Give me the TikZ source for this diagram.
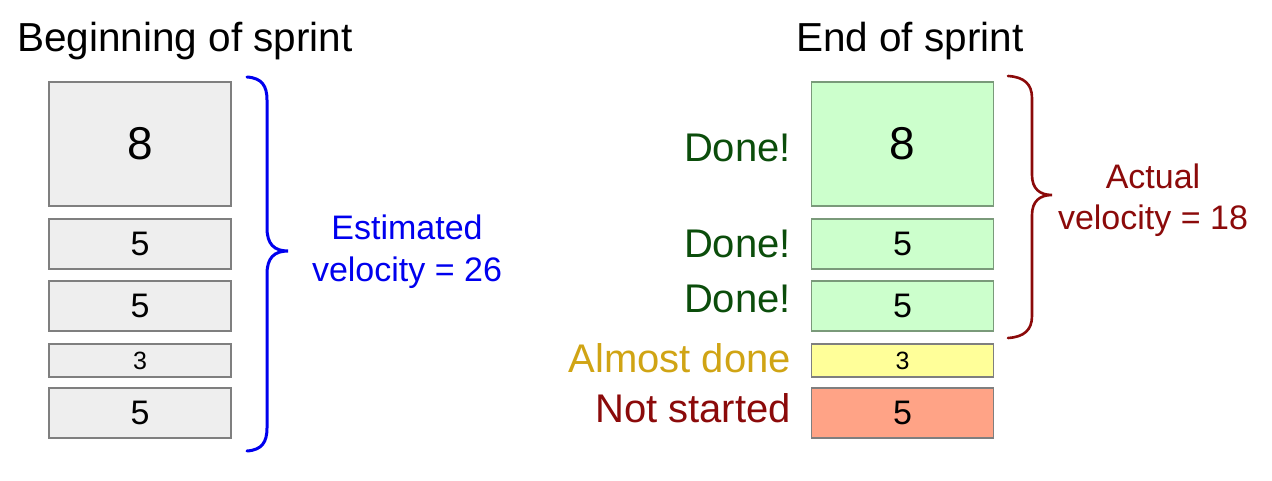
\documentclass[tikz,border=0pt]{standalone}
\usepackage{fontspec}
\setmainfont{Liberation Sans}
\definecolor{boxgray}{HTML}{EEEEEE}
\definecolor{boxline}{HTML}{7F7F7F}
\definecolor{donefill}{HTML}{CCFFCC}
\definecolor{doneline}{HTML}{7A9A7A}
\definecolor{almostfill}{HTML}{FFFF99}
\definecolor{notfill}{HTML}{FFA386}
\definecolor{donetext}{HTML}{0B4D0B}
\definecolor{almosttext}{HTML}{D0A414}
\definecolor{darkred}{HTML}{8B0A0A}
\definecolor{estblue}{HTML}{0000EE}
\tikzset{
  story/.style={draw=boxline, line width=1.3pt, minimum width=182pt, inner sep=0pt, anchor=center},
  big/.style={story, minimum height=124pt, font=\fontsize{46}{52}\selectfont},
  mid/.style={story, minimum height=50pt, font=\fontsize{34}{40}\selectfont},
  small/.style={story, minimum height=33pt, font=\fontsize{25}{30}\selectfont},
  title/.style={anchor=base west, inner sep=0pt, font=\fontsize{40.5}{48}\selectfont},
  status/.style={anchor=base east, inner sep=0pt, font=\fontsize{40}{46}\selectfont},
  vel/.style={align=center, inner sep=0pt, font=\fontsize{34}{42}\selectfont},
  bracestyle/.style={line width=3pt, line cap=round}
}
\begin{document}
\begin{tikzpicture}[x=1pt,y=-1pt]
\useasboundingbox (0,0) rectangle (1272,481);
% titles
\node[title] (t1) at (17,52) {Beginning of sprint};
\node[title] (t2) at (796,52) {End of sprint};
% left column
\node[big, fill=boxgray] (l1) at (140,144) {8};
\node[mid, fill=boxgray] (l2) at (140,244) {5};
\node[mid, fill=boxgray] (l3) at (140,306) {5};
\node[small, fill=boxgray] (l4) at (140,360.5) {3};
\node[mid, fill=boxgray] (l5) at (140,413) {5};
% right column
\node[big, fill=donefill, draw=doneline] (r1) at (902.5,144) {8};
\node[mid, fill=donefill, draw=doneline] (r2) at (902.5,244) {5};
\node[mid, fill=donefill, draw=doneline] (r3) at (902.5,306) {5};
\node[small, fill=almostfill] (r4) at (902.5,360.5) {3};
\node[mid, fill=notfill] (r5) at (902.5,413) {5};
% status labels
\node[status, text=donetext] (s1) at (791,162) {Done!};
\node[status, text=donetext] (s2) at (791,258) {Done!};
\node[status, text=donetext] (s3) at (791,312) {Done!};
\node[status, text=almosttext] (s4) at (791,372) {Almost done};
\node[status, text=darkred] (s5) at (791,422) {Not started};
% braces
\draw[bracestyle, estblue] (247,77) .. controls (262,78) and (267,86) .. (267,100) -- (267,228) .. controls (267,244) and (274,251) .. (288,251) .. controls (274,251) and (267,258) .. (267,274) -- (267,428) .. controls (267,442) and (262,450) .. (247,451);
\draw[bracestyle, darkred, line width=2.6pt] (1008,76) .. controls (1024,77) and (1032,84) .. (1032,98) -- (1032,175) .. controls (1032,189) and (1040,195) .. (1052,195) .. controls (1040,195) and (1032,201) .. (1032,215) -- (1032,316) .. controls (1032,330) and (1024,337) .. (1008,338);
% velocity labels
\node[vel, text=estblue, anchor=base] (ev) at (407,281) {Estimated\\velocity = 26};
\node[vel, text=darkred, anchor=base] (av) at (1153,230) {Actual\\velocity = 18};
\end{tikzpicture}
\end{document}
